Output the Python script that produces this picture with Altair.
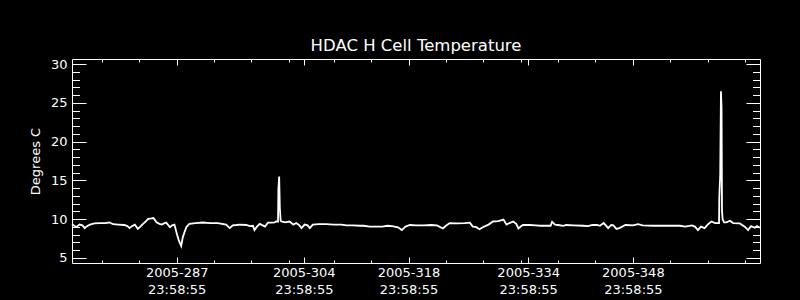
import altair as alt
import pandas as pd

TITLE = "HDAC H Cell Temperature"
Y_TITLE = "Degrees C"

# time as fractional day-of-year 2005 (N.0 = day N at 00:00:00)
days = [
    274.0, 274.3, 274.6, 275.0, 275.4, 275.7, 276.0, 276.4, 277.0, 277.7,
    278.4, 279.0, 279.5, 280.2, 281.0, 281.4, 281.7, 282.0, 282.4, 282.8,
    283.1, 283.5, 283.9, 284.2, 284.6, 284.9, 285.3, 285.7, 286.0, 286.3,
    286.6, 287.1, 287.4, 287.7, 288.0, 288.3, 288.6, 288.8, 289.0, 289.3,
    289.7, 290.5, 291.5, 292.5, 293.5, 294.6, 295.1, 295.5, 296.0, 296.4,
    297.3, 297.8, 298.2, 298.4, 298.7, 299.1, 299.5, 299.8, 300.2, 300.7,
    301.1, 301.3, 301.55, 301.6, 301.7, 301.79, 301.9, 302.0, 302.5, 303.1,
    303.6, 304.0, 304.4, 304.7, 305.1, 305.5, 305.8, 306.2, 307.0, 308.0,
    309.0, 310.0, 310.7, 311.5, 312.5, 313.0, 313.8, 314.5, 315.5, 316.2,
    316.8, 317.6, 318.1, 318.6, 319.2, 320.0, 321.0, 322.0, 322.8, 323.6,
    324.0, 324.5, 325.5, 326.5, 327.2, 327.6, 328.0, 328.5, 329.0, 329.7,
    330.3, 331.0, 331.7, 332.1, 332.5, 333.0, 333.4, 333.7, 334.0, 334.3,
    335.2, 336.0, 336.6, 337.5, 338.0, 338.2, 338.6, 339.0, 339.7, 340.1,
    341.0, 342.4, 343.0, 343.6, 344.2, 344.6, 345.1, 345.7, 346.1, 346.4,
    346.8, 347.2, 348.0, 349.0, 349.7, 350.3, 351.7, 353.5, 355.3, 356.0,
    356.9, 357.3, 357.7, 358.1, 358.6, 359.0, 359.5, 360.0, 360.52, 360.56,
    360.68, 360.78, 360.86, 360.92, 361.0, 361.2, 361.5, 362.0, 362.4, 363.3,
    364.0, 364.4, 364.8, 365.3, 365.6, 366.0,
]
temps = [
    9.35, 9.15, 9.0, 9.3, 9.2, 8.85, 9.1, 9.3, 9.45, 9.5,
    9.5, 9.57, 9.35, 9.3, 9.25, 9.1, 8.85, 9.1, 9.3, 8.75,
    9.0, 9.4, 9.75, 10.05, 10.1, 10.15, 9.6, 9.4, 9.3, 9.45,
    9.55, 8.95, 9.2, 9.3, 8.2, 7.2, 6.55, 7.6, 8.2, 9.0,
    9.4, 9.5, 9.57, 9.5, 9.5, 9.3, 8.85, 9.2, 9.25, 9.3,
    9.25, 9.1, 9.15, 8.6, 9.0, 9.4, 9.2, 9.05, 9.55, 9.55,
    9.6, 9.7, 9.7, 13.9, 15.5, 11.5, 9.8, 9.7, 9.6, 9.7,
    9.3, 9.5, 9.2, 8.85, 9.3, 9.2, 8.85, 9.3, 9.35, 9.35,
    9.3, 9.3, 9.2, 9.2, 9.15, 9.15, 9.05, 9.05, 9.05, 9.15,
    9.1, 8.95, 8.6, 9.05, 9.25, 9.2, 9.2, 9.25, 9.2, 8.8,
    9.15, 9.5, 9.45, 9.5, 9.55, 9.05, 9.0, 8.7, 9.0, 9.3,
    9.7, 9.75, 9.95, 9.3, 9.5, 9.7, 9.4, 8.8, 9.05, 9.25,
    9.25, 9.2, 9.15, 9.15, 9.15, 9.65, 9.3, 9.25, 9.15, 9.25,
    9.2, 9.15, 9.1, 9.25, 9.25, 9.15, 9.5, 8.85, 9.25, 9.2,
    8.75, 8.85, 9.25, 9.2, 9.35, 9.2, 9.15, 9.15, 9.15, 9.05,
    9.2, 9.05, 8.6, 9.05, 8.85, 9.3, 9.7, 9.5, 9.5, 12.9,
    15.7, 26.5, 24.3, 11.0, 10.0, 9.6, 9.6, 9.8, 9.5, 9.45,
    9.0, 8.6, 9.1, 8.9, 9.1, 8.9,
]

tick_labels = ["2005-287", "2005-304", "2005-318", "2005-334", "2005-348"]
tick_time = "23:58:55"
minor_x = [278, 283, 293, 298, 303, 309, 314, 324, 329, 334, 339, 344, 354, 359, 364]
y_major = [5, 10, 15, 20, 25, 30]
y_minor = [v for v in range(5, 31) if v % 5 != 0]
x_domain = [274.0, 366.0]
y_domain = [4.35, 30.65]

W, H = 688, 204

h, m, s = (int(p) for p in tick_time.split(":"))
frac = (h * 3600 + m * 60 + s) / 86400.0
x_major = [int(lbl.split("-")[1]) + frac for lbl in tick_labels]

expr = "''"
for v, lbl in reversed(list(zip(x_major, tick_labels))):
    expr = f"abs(datum.value - {v}) < 0.01 ? ['{lbl}', '{tick_time}'] : ({expr})"

df = pd.DataFrame({"day": days, "temp": temps})
xs = alt.Scale(domain=x_domain, nice=False, zero=False)
ys = alt.Scale(domain=y_domain, nice=False, zero=False)

FONT = "DejaVu Sans"
tick_common = dict(grid=False, domain=False, labels=False, title=None,
                   tickColor="white", tickWidth=1)


def layer(xaxis, yaxis, visible=False):
    mk = alt.Chart(df).mark_line(color="white", strokeWidth=1.8,
                                 opacity=1 if visible else 0)
    return mk.encode(
        x=alt.X("day:Q", scale=xs, axis=xaxis),
        y=alt.Y("temp:Q", scale=ys, axis=yaxis),
    )


x_lab = alt.Axis(orient="bottom", values=x_major, grid=False, domain=False,
                 ticks=False, tickSize=0, labelExpr=expr, labelColor="white",
                 labelFont=FONT, labelFontSize=13, labelPadding=3,
                 labelLineHeight=17, labelOverlap=False, title=None)
y_lab = alt.Axis(orient="left", values=y_major, grid=False, domain=False,
                 ticks=False, tickSize=0, labelColor="white", labelFont=FONT,
                 labelFontSize=13, labelPadding=5, format="d", labelOverlap=False,
                 title=Y_TITLE, titleColor="white", titleFont=FONT,
                 titleFontSize=13, titleFontWeight="normal", titleX=-37,
                 titleY=H / 2, titleAngle=-90, titleAlign="center",
                 titleBaseline="middle")

layers = [
    layer(x_lab, y_lab, visible=True),
    layer(alt.Axis(orient="top", offset=-H, values=x_major, tickSize=6, **tick_common),
          alt.Axis(orient="right", offset=-W, values=y_major, tickSize=14, **tick_common)),
    layer(alt.Axis(orient="top", offset=-H, values=minor_x, tickSize=3, **tick_common),
          alt.Axis(orient="right", offset=-W, values=y_minor, tickSize=7.5, **tick_common)),
    layer(alt.Axis(orient="bottom", offset=-H, values=x_major, tickSize=6, **tick_common),
          alt.Axis(orient="left", offset=-W, values=y_major, tickSize=14, **tick_common)),
    layer(alt.Axis(orient="bottom", offset=-H, values=minor_x, tickSize=3, **tick_common),
          alt.Axis(orient="left", offset=-W, values=y_minor, tickSize=7.5, **tick_common)),
]

chart = (
    alt.layer(*layers)
    .resolve_axis(x="independent", y="independent")
    .properties(
        width=W,
        height=H,
        autosize="none",
        padding={"left": 72, "top": 59, "right": 40, "bottom": 37},
        background="black",
        title=alt.TitleParams(TITLE, color="white", font=FONT, fontSize=16.5,
                              fontWeight="normal", anchor="middle",
                              frame="group", offset=4),
    )
    .configure_view(stroke="white", strokeWidth=1)
)

chart.save("out.html", embed_options={"renderer": "svg", "actions": False})
